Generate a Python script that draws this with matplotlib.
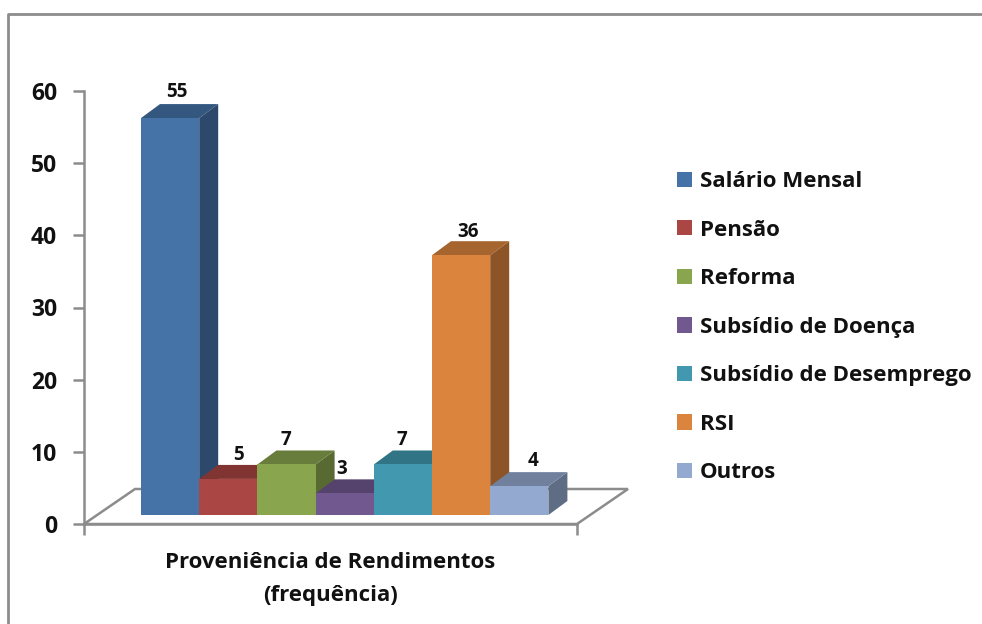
import matplotlib
matplotlib.use("Agg")
import matplotlib.pyplot as plt
from matplotlib.lines import Line2D
from matplotlib.patches import Polygon
from matplotlib.colors import to_rgb

categories = ["Salário Mensal", "Pensão", "Reforma", "Subsídio de Doença",
              "Subsídio de Desemprego", "RSI", "Outros"]
values = [55, 5, 7, 3, 7, 36, 4]
colors = ["#4572A7", "#AA4643", "#89A54E", "#71588F", "#4198AF", "#DB843D", "#93A9CF"]
label_dx = [7, 10, -1, -3, -1, 7, 14]
label_dy = [26, 24, 24, 24, 24, 23, 25]

W, H = 982, 624
GREY = "#8C8C8C"
TXT = "#111111"
plt.rcParams["font.family"] = ["Open Sans", "DejaVu Sans"]
plt.rcParams["font.weight"] = "bold"

fig = plt.figure(figsize=(W / 100, H / 100), dpi=100)
ax = fig.add_axes([84 / W, 1 - 524 / H, (577 - 84) / W, (524 - 91) / H])

# scale: one bar is 58.2 px wide, first bar starts at pixel 141
xpx = 58.2
ypx = 433 / 60
x0 = -0.5 - (141 - 84) / xpx
x1 = -0.5 + (577 - 141) / xpx
ax.set_xlim(x0, x1)
ax.set_ylim(0, 60)

# fake 3d depth of the bars and of the floor
dx = 19 / xpx
dy = 14 / ypx
base = 9 / ypx
fdx = 51 / xpx
fdy = 35 / ypx

ax.add_patch(Polygon([(x0, 0), (x0 + fdx, fdy), (x1 + fdx, fdy), (x1, 0)],
                     closed=True, fc="white", ec=GREY, lw=1.8, clip_on=False, zorder=1))


def shade(c, f):
    return tuple(v * f for v in to_rgb(c))


bars = ax.bar(range(len(values)), values, width=1, bottom=base, color=colors, linewidth=0, zorder=2)
for i, b in enumerate(bars):
    l = b.get_x()
    r = l + b.get_width()
    top = b.get_y() + b.get_height()
    z = 2 + i
    b.set_zorder(z + 0.5)
    ax.add_patch(Polygon([(r, base), (r + dx, base + dy), (r + dx, top + dy), (r, top)],
                         closed=True, fc=shade(colors[i], 0.64), lw=0, zorder=z, clip_on=False))
    ax.add_patch(Polygon([(l, top), (l + dx, top + dy), (r + dx, top + dy), (r, top)],
                         closed=True, fc=shade(colors[i], 0.76), lw=0, zorder=z, clip_on=False))
    ax.annotate(str(values[i]), (i, top), xytext=(label_dx[i] * 0.72, label_dy[i] * 0.72),
                textcoords="offset points", ha="center", va="center",
                fontsize=13.5, color=TXT, zorder=20)

for s in ["top", "right"]:
    ax.spines[s].set_visible(False)
for s in ["left", "bottom"]:
    ax.spines[s].set_color(GREY)
    ax.spines[s].set_linewidth(1.8)
    ax.spines[s].set_zorder(1.5)

ax.set_yticks(range(0, 61, 10))
ax.tick_params(axis="y", length=8, width=1.8, color=GREY, labelsize=16.5, labelcolor=TXT, pad=11.5)
ax.set_xticks([x0, x1])
ax.set_xticklabels([])
ax.tick_params(axis="x", length=8, width=1.8, color=GREY)

fig.text(330 / W, 1 - 563 / H, "Proveniência de Rendimentos", ha="center", va="center",
         fontsize=16, color=TXT)
fig.text(330 / W, 1 - 595 / H, "(frequência)", ha="center", va="center",
         fontsize=16, color=TXT)

leg = fig.legend(bars, categories, loc="upper left", bbox_to_anchor=(677 / W, 1 - 171 / H),
                 frameon=False, fontsize=16, labelcolor=TXT, handlelength=0.68, handleheight=0.68,
                 handletextpad=0.36, labelspacing=1.24, borderaxespad=0, borderpad=0)

# chart border, only left and top fall inside the picture
fig.add_artist(Line2D([8 / W, 8 / W, 1], [0, 1 - 14 / H, 1 - 14 / H], color=GREY, lw=2))

fig.savefig("out.png", dpi=100)
